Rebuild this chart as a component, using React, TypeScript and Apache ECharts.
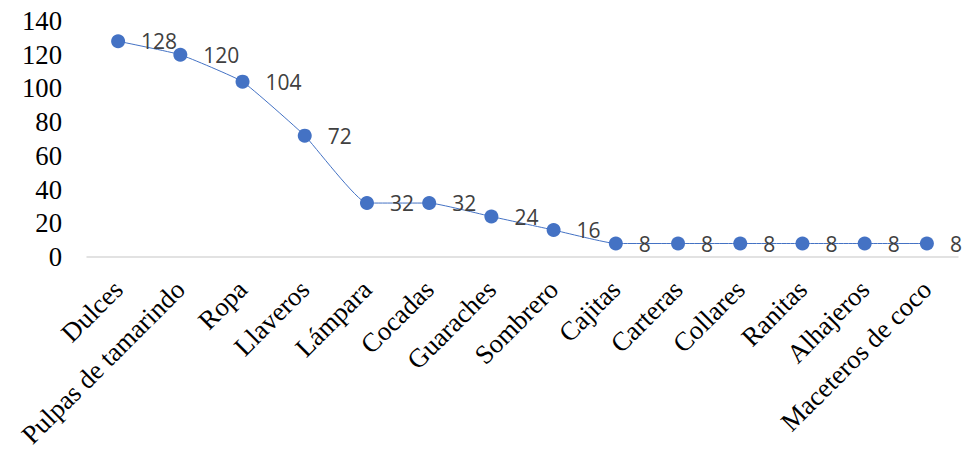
import React, { useEffect, useRef } from "react";
import * as echarts from "echarts";

const categories = [
  "Dulces",
  "Pulpas de tamarindo",
  "Ropa",
  "Llaveros",
  "Lámpara",
  "Cocadas",
  "Guaraches",
  "Sombrero",
  "Cajitas",
  "Carteras",
  "Collares",
  "Ranitas",
  "Alhajeros",
  "Maceteros de coco",
];
const values = [128, 120, 104, 72, 32, 32, 24, 16, 8, 8, 8, 8, 8, 8];

export default function App() {
  const ref = useRef<HTMLDivElement>(null);
  useEffect(() => {
    const chart = echarts.init(ref.current!, undefined, { renderer: "svg" });
    chart.setOption({
      animation: false,
      grid: { left: 87, right: 8, top: 21, bottom: 196 },
      xAxis: {
        type: "category",
        data: categories,
        boundaryGap: true,
        axisLine: { show: true, lineStyle: { color: "#D9D9D9", width: 1.5 } },
        axisTick: { show: false },
        axisLabel: {
          rotate: 45,
          interval: 0,
          margin: 28,
          fontFamily: "Liberation Serif, serif",
          fontSize: 26.7,
          color: "#000",
        },
      },
      yAxis: {
        type: "value",
        min: 0,
        max: 140,
        interval: 20,
        axisLine: { show: false },
        axisTick: { show: false },
        splitLine: { show: false },
        axisLabel: {
          margin: 25,
          fontFamily: "Liberation Serif, serif",
          fontSize: 26.7,
          color: "#000",
        },
      },
      series: [
        {
          type: "line",
          data: values,
          smooth: 0.12,
          symbol: "circle",
          symbolSize: 14,
          itemStyle: { color: "#4472C4" },
          lineStyle: { color: "#4472C4", width: 1 },
          label: {
            show: true,
            position: "right",
            distance: 16,
            fontFamily: "Open Sans, Liberation Sans, sans-serif",
            fontSize: 21,
            color: "#404040",
          },
        },
      ],
    });
    return () => chart.dispose();
  }, []);
  return (
    <div
      ref={ref}
      style={{ position: "absolute", left: 0, top: 0, width: 966, height: 453 }}
    />
  );
}
